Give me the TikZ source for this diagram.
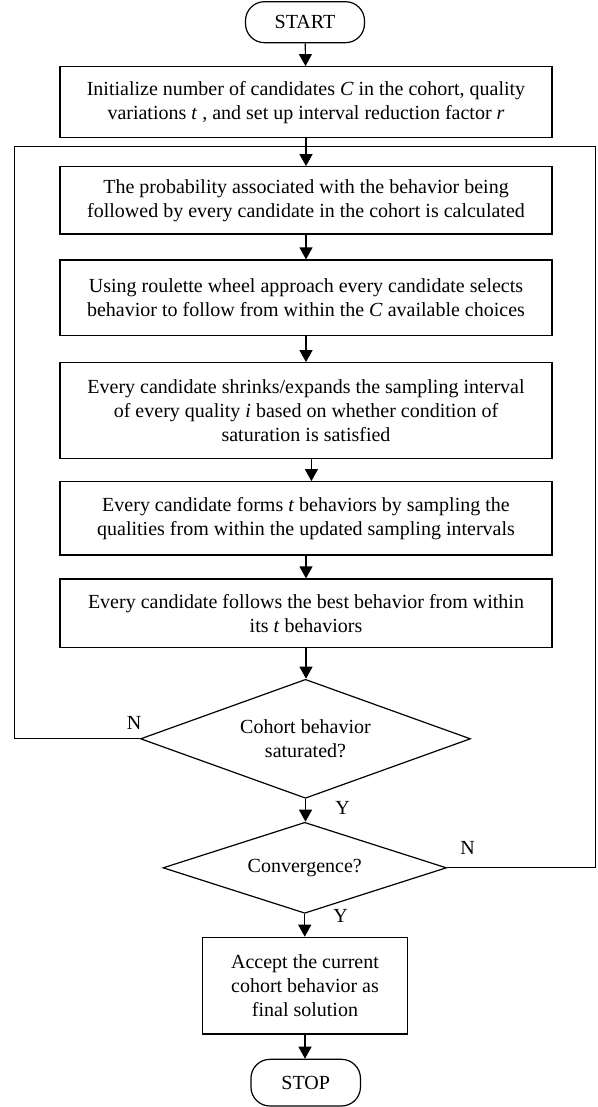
\documentclass[tikz,border=0pt]{standalone}
\usepackage{fontspec}
\setmainfont{Liberation Serif}
\usetikzlibrary{arrows.meta,shapes.geometric}
\newcommand{\vv}[1]{\ \textit{#1}\ }
\begin{document}
\begin{tikzpicture}[x=1pt,y=-1pt,
  every node/.style={font=\fontsize{20}{24}\selectfont},
  box/.style={draw, line width=1.2pt, inner sep=0pt, align=center, minimum width=492pt},
  term/.style={draw, line width=1.2pt, rounded corners=19pt, inner sep=0pt, align=center},
  dec/.style={draw, diamond, line width=1.2pt, inner sep=0pt, align=center},
  arr/.style={line width=1.2pt, -{Triangle[length=12pt,width=13pt]}},
  ln/.style={line width=1.2pt},
  lab/.style={inner sep=0pt}]
\useasboundingbox (0,0) rectangle (597,1107);

\node[term, minimum width=119pt, minimum height=41pt] (start) at (305,22.2) {START};
\node[box, minimum height=71pt] (init) at (306,102.2)
  {Initialize number of candidates\vv{C}in the cohort, quality\\variations\vv{t}, and set up interval reduction factor\vv{r}};
\node[box, minimum height=67.3pt] (prob) at (306,200.35)
  {The probability associated with the behavior being\\followed by every candidate in the cohort is calculated};
\node[box, minimum height=75.7pt] (roul) at (306,297.85)
  {Using roulette wheel approach every candidate selects\\behavior to follow from within the\vv{C}available choices};
\node[box, minimum height=96pt] (shrink) at (306,410.7)
  {Every candidate shrinks/expands the sampling interval\\of every quality\vv{i}based on whether condition of\\saturation is satisfied};
\node[box, minimum height=73.3pt] (forms) at (306,518.35)
  {Every candidate forms\vv{t}behaviors by sampling the\\qualities from within the updated sampling intervals};
\node[box, minimum height=68.7pt] (follow) at (306,613.35)
  {Every candidate follows the best behavior from within\\its\vv{t}behaviors};
\node[dec, minimum width=330pt, minimum height=119pt, aspect=2.77] (sat) at (305.5,738.8)
  {Cohort behavior\\saturated?};
\node[dec, minimum width=283.5pt, minimum height=91pt, aspect=3.1] (conv) at (304.75,867.8)
  {Convergence?};
\node[draw, line width=1.2pt, inner sep=0pt, align=center, minimum width=204.3pt, minimum height=96.7pt] (acc) at (305,985.65)
  {Accept the current\\cohort behavior as\\final solution};
\node[term, minimum width=109.5pt, minimum height=46.7pt] (stop) at (305.7,1082.65) {STOP};

\node[lab] (n1) at (134,723.3) {N};
\node[lab] (y1) at (342.6,808.3) {Y};
\node[lab] (n2) at (467.5,847.7) {N};
\node[lab] (y2) at (340.7,916) {Y};

\coordinate (j) at (306,146.7);
\coordinate (lx) at (14.5,0);
\coordinate (rx) at (595.7,0);

\draw[arr] (start) -- (init);
\draw[arr] (init) -- (prob);
\draw[arr] (prob) -- (roul);
\draw[arr] (roul) -- (shrink);
\draw[arr] ([xshift=5.4pt]shrink.south) -- ([xshift=5.4pt]forms.north);
\draw[arr] (forms) -- (follow);
\draw[arr] (follow.south) -- (follow.south |- sat.north);
\draw[arr] (sat.south) -- (sat.south |- conv.north);
\draw[arr] (conv.south) -- (conv.south |- acc.north);
\draw[arr] (acc.south) -- (acc.south |- stop.north);
\draw[ln] (sat.west) -- (sat.west -| lx) -- (lx |- j) -- (j);
\draw[ln] (conv.east) -- (conv.east -| rx) -- (rx |- j) -- (j);
\end{tikzpicture}
\end{document}
